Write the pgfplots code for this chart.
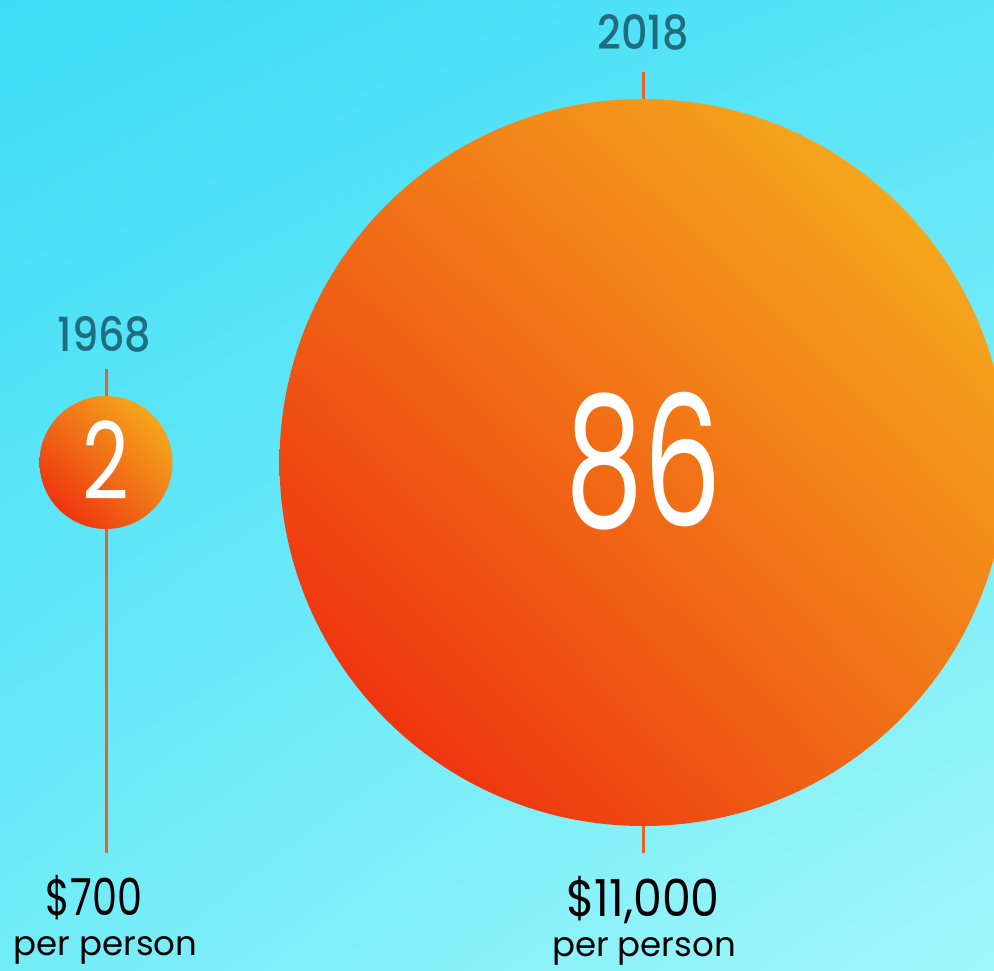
\documentclass[border=0pt]{standalone}
\usepackage{pgfplots}
\pgfplotsset{compat=1.18}
\usetikzlibrary{shadings}
\usepackage{fontspec}
\setmainfont{Poppins}
\newfontfamily\thinfont{Poppins Light}
\newfontfamily\medfont{Poppins Medium}
\definecolor{bgUL}{HTML}{3DDCF6}
\definecolor{bgUR}{HTML}{58E4F7}
\definecolor{bgLL}{HTML}{72ECF8}
\definecolor{bgLR}{HTML}{A2F7F9}
\definecolor{ballA}{HTML}{EE1C0C}
\definecolor{ballB}{HTML}{F7BC1E}
\definecolor{ballM}{HTML}{F07218}
\definecolor{lineC}{HTML}{E8602A}
\definecolor{yearC}{HTML}{1F6D7D}
\pgfdeclareplotmark{gradball}{%
  \shade[draw=none, lower left=ballA, upper right=ballB, upper left=ballM, lower right=ballM]
    (0pt,0pt) circle[radius=\the\pgfplotmarksize];}
\begin{document}
\begin{tikzpicture}
\begin{axis}[
  scale only axis, width=994pt, height=970pt,
  xmin=0, xmax=994, ymin=0, ymax=970,
  axis lines=none,
  clip marker paths=true,
  axis background/.style={shade, upper left=bgUL, upper right=bgUR, lower left=bgLL, lower right=bgLR},
]
% stems
\addplot[lineC, line width=3pt] coordinates {(106,117) (106,601)};
\addplot[lineC, line width=3pt] coordinates {(643,117) (643,898)};
% bubbles: 1968 = 2, 2018 = 86
\addplot[only marks, mark=gradball, mark size=66.5pt, mark options={draw=none}] coordinates {(106,507.5)};
\addplot[only marks, mark=gradball, mark size=363.5pt, mark options={draw=none}] coordinates {(643,507.5)};
% labels
\node[anchor=base, text=yearC, font=\medfont\fontsize{47}{58}\selectfont] at (axis cs:104.5,618) {\scalebox{0.88}[1]{1968}};
\node[anchor=base, text=yearC, font=\medfont\fontsize{47}{58}\selectfont] at (axis cs:643,920) {\scalebox{0.88}[1]{2018}};
\node[anchor=base, text=white, font=\fontsize{107}{120}\selectfont] at (axis cs:106,470) {\scalebox{0.76}[1]{2}};
\node[anchor=base, text=white, font=\fontsize{182}{200}\selectfont] at (axis cs:643.5,443) {\scalebox{0.68}[1]{86}};
\node[anchor=base, text=black, font=\fontsize{51}{60}\selectfont] at (axis cs:94,55) {\scalebox{0.78}[1]{\$700}};
\node[anchor=base, text=black, font=\fontsize{34}{44}\selectfont] at (axis cs:105.5,15) {per person};
\node[anchor=base, text=black, font=\fontsize{51}{60}\selectfont] at (axis cs:643,53) {\scalebox{0.9}[1]{\$11,000}};
\node[anchor=base, text=black, font=\fontsize{34}{44}\selectfont] at (axis cs:644,13) {per person};
\end{axis}
\end{tikzpicture}
\end{document}
